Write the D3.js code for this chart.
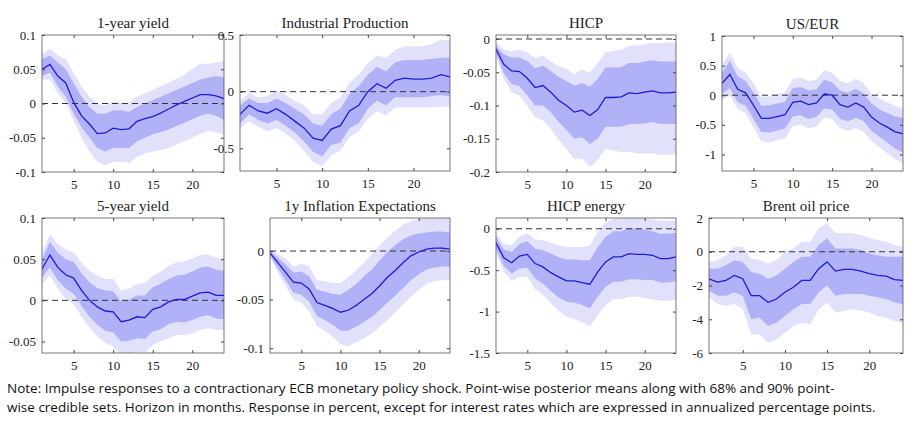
<!DOCTYPE html>
<meta charset="utf-8">
<style>
body { margin: 0; background: #fff; }
text { font-family: "Liberation Serif", "DejaVu Serif", serif; fill: #222; }
.note { font-family: "Open Sans", "Noto Sans", sans-serif; font-size: 13.5px; fill: #111; }
.band90 { fill: #e1e1fb; }
.band68 { fill: #b1b1f8; }
.mean { fill: none; stroke: #1c1cd2; stroke-width: 1.3; }
.zero { stroke: #333; stroke-dasharray: 6,4; stroke-width: 1; }
.frame { fill: none; stroke: #555; stroke-width: 0.8; }
</style>
<body>
<svg id="chart" width="918" height="422"></svg>
<script src="https://cdn.jsdelivr.net/npm/d3@7"></script>
<script>
var horizon = d3.range(1, 25);
var titles = ["1-year yield", "Industrial Production", "HICP", "US/EUR",
              "5-year yield", "1y Inflation Expectations", "HICP energy", "Brent oil price"];
var yDomains = [[-0.1, 0.1], [-0.7, 0.5], [-0.2, 0.006], [-1.28, 1],
                [-0.064, 0.1], [-0.105, 0.034], [-1.5, 0.13], [-6, 2]];
var yTicks = [[-0.1, -0.05, 0, 0.05, 0.1], [-0.5, 0, 0.5], [-0.2, -0.15, -0.1, -0.05, 0], [-1, -0.5, 0, 0.5, 1],
              [-0.05, 0, 0.05, 0.1], [-0.1, -0.05, 0], [-1.5, -1, -0.5, 0], [-6, -4, -2, 0, 2]];

var mean = [
 [.05,.057,.04,.03,.002,-.018,-.03,-.044,-.043,-.036,-.038,-.037,-.026,-.022,-.019,-.014,-.008,-.002,.003,.008,.013,.013,.011,.007],
 [-.2,-.12,-.17,-.19,-.15,-.2,-.26,-.32,-.41,-.43,-.33,-.3,-.17,-.12,0,.07,.03,.1,.12,.11,.11,.12,.15,.13],
 [-.015,-.038,-.048,-.049,-.059,-.073,-.07,-.08,-.092,-.1,-.11,-.107,-.115,-.106,-.088,-.088,-.087,-.081,-.082,-.08,-.078,-.081,-.081,-.08],
 [.2,.35,.1,.04,-.17,-.39,-.39,-.36,-.33,-.12,-.1,-.16,-.13,.02,0,-.16,-.2,-.13,-.2,-.37,-.47,-.54,-.62,-.65],
 [.038,.055,.04,.031,.027,.012,0,-.008,-.013,-.014,-.026,-.024,-.02,-.021,-.011,-.008,-.002,.001,.001,.005,.009,.01,.006,.006],
 [-.002,-.012,-.022,-.032,-.033,-.039,-.053,-.056,-.059,-.063,-.061,-.056,-.05,-.044,-.036,-.027,-.02,-.012,-.005,-.001,.002,.003,.003,.002],
 [-.17,-.35,-.41,-.33,-.31,-.42,-.46,-.53,-.58,-.63,-.63,-.65,-.67,-.52,-.4,-.34,-.34,-.3,-.31,-.31,-.32,-.36,-.36,-.34],
 [-1.6,-1.8,-1.7,-1.4,-1.6,-2.6,-2.6,-3,-2.8,-2.4,-2.1,-1.7,-1.7,-1,-.6,-1.15,-1.05,-1.05,-1.15,-1.3,-1.4,-1.45,-1.65,-1.7]
];
var hi68 = [
 [.065,.07,.06,.05,.03,.01,-.005,-.015,-.015,-.01,-.01,-.012,-.005,0,.005,.01,.015,.02,.025,.03,.035,.038,.04,.038],
 [-.12,-.06,-.1,-.1,-.06,-.1,-.15,-.2,-.28,-.3,-.2,-.15,-.02,.05,.15,.22,.18,.26,.28,.28,.28,.29,.3,.3],
 [-.01,-.023,-.028,-.028,-.033,-.044,-.04,-.048,-.057,-.063,-.07,-.066,-.072,-.06,-.043,-.043,-.042,-.036,-.036,-.034,-.032,-.034,-.034,-.034],
 [.38,.58,.32,.24,.05,-.18,-.17,-.14,-.11,.12,.14,.08,.1,.26,.22,.08,.04,.11,.03,-.14,-.24,-.3,-.36,-.38],
 [.05,.071,.058,.05,.047,.033,.022,.015,.012,.011,-.001,.001,.006,.006,.016,.02,.026,.03,.031,.035,.04,.041,.037,.036],
 [0,-.007,-.014,-.022,-.021,-.026,-.04,-.042,-.044,-.045,-.04,-.034,-.026,-.019,-.01,-.001,.006,.012,.016,.018,.019,.02,.02,.019],
 [-.1,-.25,-.28,-.18,-.15,-.24,-.26,-.3,-.34,-.37,-.37,-.38,-.38,-.22,-.1,-.03,-.03,.01,0,-.01,-.03,-.06,-.06,-.05],
 [-1,-1,-.8,-.5,-.6,-1.2,-1.3,-1.6,-1.4,-1,-.6,-.3,-.3,.4,.8,.2,.2,.2,.1,-.1,-.2,-.3,-.3,-.3]
];
var lo68 = [
 [.04,.045,.025,.01,-.015,-.035,-.05,-.065,-.07,-.065,-.065,-.065,-.055,-.05,-.045,-.042,-.038,-.033,-.028,-.023,-.018,-.015,-.018,-.024],
 [-.28,-.2,-.25,-.28,-.25,-.3,-.36,-.44,-.53,-.57,-.47,-.45,-.32,-.28,-.15,-.08,-.12,-.05,-.05,-.05,-.05,-.04,-.03,-.04],
 [-.02,-.052,-.068,-.071,-.085,-.1,-.1,-.11,-.125,-.137,-.15,-.148,-.158,-.15,-.132,-.132,-.132,-.128,-.128,-.127,-.125,-.128,-.128,-.128],
 [.02,.12,-.12,-.18,-.4,-.62,-.63,-.6,-.56,-.36,-.34,-.4,-.37,-.22,-.24,-.4,-.44,-.38,-.44,-.6,-.7,-.8,-.9,-.97],
 [.028,.04,.024,.014,.008,-.007,-.02,-.03,-.037,-.039,-.05,-.049,-.046,-.047,-.038,-.035,-.029,-.026,-.027,-.024,-.02,-.018,-.022,-.023],
 [-.004,-.018,-.03,-.043,-.045,-.052,-.067,-.071,-.076,-.082,-.082,-.078,-.073,-.068,-.061,-.053,-.046,-.038,-.03,-.024,-.019,-.017,-.016,-.016],
 [-.24,-.45,-.54,-.48,-.47,-.6,-.66,-.75,-.83,-.88,-.89,-.92,-.96,-.82,-.7,-.64,-.64,-.61,-.61,-.62,-.62,-.65,-.65,-.63],
 [-2.3,-2.6,-2.6,-2.4,-2.6,-4,-3.9,-4.4,-4.2,-3.8,-3.4,-3.1,-3.1,-2.4,-2,-2.6,-2.5,-2.5,-2.5,-2.6,-2.7,-2.8,-3,-3.1]
];
var hi90 = [
 [.072,.08,.07,.065,.045,.025,.01,0,-.003,.003,.001,.001,.01,.015,.02,.025,.03,.036,.042,.05,.058,.058,.06,.062],
 [-.08,-.01,-.05,-.04,.01,-.03,-.08,-.12,-.2,-.2,-.1,-.05,.08,.15,.25,.32,.3,.37,.4,.4,.4,.42,.46,.45],
 [-.005,-.016,-.018,-.016,-.02,-.029,-.025,-.034,-.041,-.045,-.053,-.046,-.05,-.036,-.02,-.018,-.016,-.01,-.01,-.008,-.006,-.006,-.005,-.005],
 [.5,.72,.46,.38,.2,-.03,-.02,.02,.04,.28,.3,.24,.26,.42,.38,.24,.2,.28,.2,.03,-.05,-.12,-.18,-.22],
 [.058,.08,.068,.062,.058,.046,.036,.03,.026,.026,.012,.014,.02,.021,.03,.035,.042,.046,.047,.051,.055,.056,.052,.05],
 [.002,-.003,-.008,-.016,-.013,-.016,-.03,-.031,-.033,-.033,-.027,-.02,-.012,-.003,.006,.014,.021,.027,.031,.033,.034,.034,.034,.034],
 [-.06,-.18,-.2,-.09,-.06,-.13,-.14,-.17,-.2,-.22,-.22,-.22,-.2,-.04,.08,.12,.12,.13,.13,.12,.11,.1,.1,.1],
 [-.6,-.5,-.2,.3,.3,-.4,-.5,-.7,-.5,0,.2,.6,.6,1.4,1.7,1.1,1.1,1.1,1,.8,.7,.6,.4,.3]
];
var lo90 = [
 [.035,.035,.015,0,-.025,-.05,-.07,-.085,-.09,-.085,-.085,-.087,-.078,-.073,-.07,-.068,-.065,-.06,-.055,-.05,-.044,-.04,-.042,-.045],
 [-.32,-.26,-.31,-.35,-.32,-.37,-.43,-.52,-.62,-.66,-.56,-.52,-.4,-.35,-.24,-.17,-.21,-.14,-.14,-.14,-.14,-.14,-.13,-.14],
 [-.025,-.06,-.08,-.085,-.1,-.118,-.122,-.135,-.152,-.165,-.18,-.18,-.192,-.182,-.165,-.168,-.17,-.17,-.172,-.172,-.172,-.174,-.174,-.173],
 [-.08,0,-.24,-.3,-.55,-.78,-.8,-.76,-.73,-.52,-.5,-.56,-.53,-.38,-.4,-.56,-.6,-.56,-.62,-.77,-.88,-.98,-1.08,-1.15],
 [.02,.03,.014,.002,-.005,-.02,-.033,-.044,-.052,-.056,-.066,-.066,-.062,-.064,-.054,-.05,-.046,-.042,-.042,-.04,-.036,-.034,-.036,-.036],
 [-.006,-.022,-.036,-.05,-.053,-.062,-.077,-.082,-.088,-.096,-.098,-.094,-.09,-.085,-.078,-.071,-.063,-.055,-.047,-.04,-.034,-.031,-.03,-.029],
 [-.3,-.52,-.63,-.58,-.58,-.73,-.8,-.9,-.99,-1.06,-1.09,-1.13,-1.18,-1.04,-.92,-.85,-.85,-.82,-.82,-.84,-.85,-.87,-.87,-.86],
 [-2.7,-3.1,-3.2,-3.1,-3.4,-4.9,-4.9,-5.4,-5.2,-4.8,-4.4,-4.2,-4.3,-3.4,-3,-3.6,-3.5,-3.4,-3.5,-3.6,-3.8,-3.9,-4.1,-4.2]
];
var noteLines = [
 "Note: Impulse responses to a contractionary ECB monetary policy shock. Point-wise posterior means along with 68% and 90% point-",
 "wise credible sets. Horizon in months. Response in percent, except for interest rates which are expressed in annualized percentage points."
];

// panel boxes [left, top, right, bottom]
var boxes = [[42, 35, 224, 172], [240, 35, 450, 171], [496, 35, 676, 172], [722, 36, 903, 171],
             [42, 218, 224, 353], [270, 218, 450, 353], [496, 218, 676, 353], [709, 218, 903, 353]];

var svg = d3.select("#chart");
var fmt = function(v) { return String(v); };

titles.forEach(function(t, i) {
  var b = boxes[i];
  var x = d3.scaleLinear().domain([1, 24]).range([b[0], b[2]]);
  var y = d3.scaleLinear().domain(yDomains[i]).range([b[3], b[1]]);
  var g = svg.append("g");
  var rows = horizon.map(function(h, k) {
    return {h: h, m: mean[i][k], a: lo68[i][k], b: hi68[i][k], c: lo90[i][k], d: hi90[i][k]};
  });
  g.append("clipPath").attr("id", "c" + i).append("rect")
    .attr("x", b[0]).attr("y", b[1]).attr("width", b[2] - b[0]).attr("height", b[3] - b[1]);
  var inner = g.append("g").attr("clip-path", "url(#c" + i + ")");
  inner.append("path").attr("class", "band90")
    .attr("d", d3.area().x(function(d) { return x(d.h); }).y0(function(d) { return y(d.c); }).y1(function(d) { return y(d.d); })(rows));
  inner.append("path").attr("class", "band68")
    .attr("d", d3.area().x(function(d) { return x(d.h); }).y0(function(d) { return y(d.a); }).y1(function(d) { return y(d.b); })(rows));
  inner.append("line").attr("class", "zero").attr("x1", b[0]).attr("x2", b[2]).attr("y1", y(0)).attr("y2", y(0));
  inner.append("path").attr("class", "mean")
    .attr("d", d3.line().x(function(d) { return x(d.h); }).y(function(d) { return y(d.m); })(rows));

  var xt = [5, 10, 15, 20];
  var axes = [];
  axes.push(g.append("g").attr("transform", "translate(0," + b[3] + ")")
    .call(d3.axisBottom(x).tickValues(xt).tickSize(-3).tickPadding(8)));
  axes.push(g.append("g").attr("transform", "translate(0," + b[1] + ")")
    .call(d3.axisTop(x).tickValues(xt).tickSize(-3).tickFormat("")));
  axes.push(g.append("g").attr("transform", "translate(" + b[0] + ",0)")
    .call(d3.axisLeft(y).tickValues(yTicks[i]).tickSize(-3).tickPadding(6).tickFormat(fmt)));
  axes.push(g.append("g").attr("transform", "translate(" + b[2] + ",0)")
    .call(d3.axisRight(y).tickValues(yTicks[i]).tickSize(-3).tickFormat("")));
  axes.forEach(function(a) {
    a.select(".domain").remove();
    a.attr("font-family", "'Liberation Serif', 'DejaVu Serif', serif").attr("font-size", 13);
    a.selectAll(".tick line").attr("stroke", "#444");
    a.selectAll(".tick text").attr("fill", "#222");
  });
  g.append("rect").attr("class", "frame")
    .attr("x", b[0]).attr("y", b[1]).attr("width", b[2] - b[0]).attr("height", b[3] - b[1]);
  g.append("text").attr("x", (b[0] + b[2]) / 2).attr("y", b[1] - 7)
    .attr("text-anchor", "middle").style("font-size", "15px").text(t);
});

svg.selectAll("text.note").data(noteLines).enter().append("text")
  .attr("class", "note").attr("x", 7).attr("y", function(d, k) { return 393 + k * 19; })
  .text(function(d) { return d; });
</script>
</body>
